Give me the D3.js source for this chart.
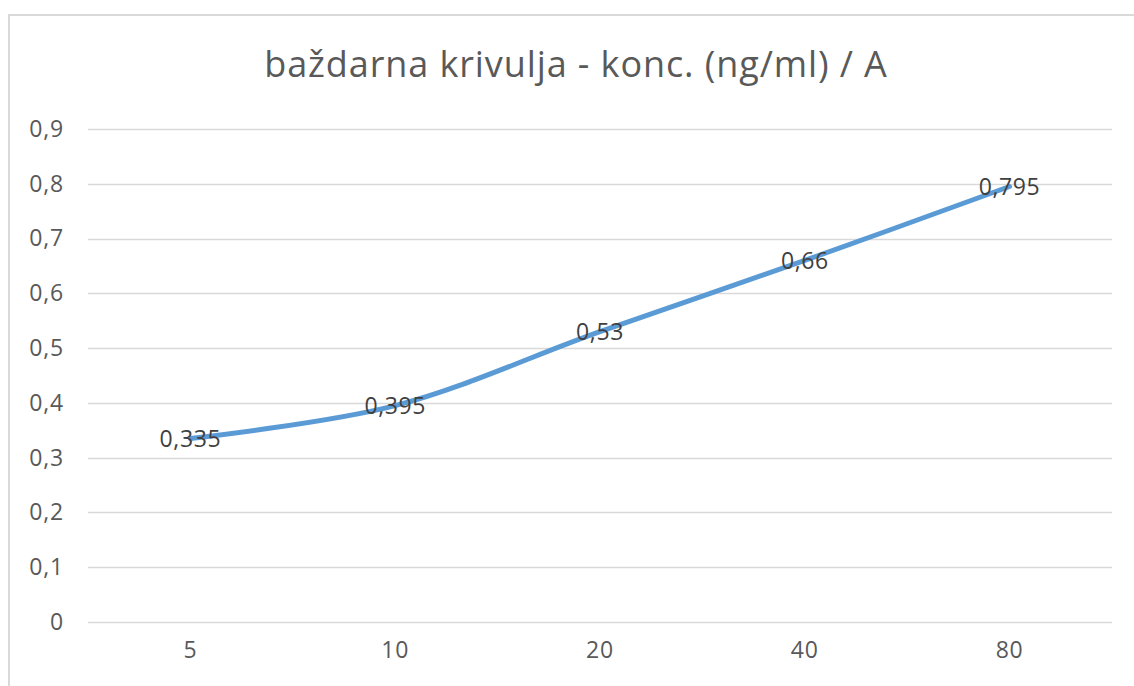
<!DOCTYPE html>
<html>
<head>
<meta charset="utf-8">
<script src="https://cdn.jsdelivr.net/npm/d3@7"></script>
<style>
  body { margin: 0; background: #fff; }
  svg { display: block; font-family: "Open Sans", "Noto Sans", sans-serif; }
</style>
</head>
<body>
<div id="chart"></div>
<script>
// chart data
const categories = ["5", "10", "20", "40", "80"];
const absorbance = [0.335, 0.395, 0.53, 0.66, 0.795];
const yTicks = [0, 0.1, 0.2, 0.3, 0.4, 0.5, 0.6, 0.7, 0.8, 0.9];
const title = "baždarna krivulja - konc. (ng/ml) / A";

const W = 1134, H = 686;
const plot = { left: 88, right: 1112, top: 129, bottom: 622 };
const fmt = v => String(+v.toFixed(3)).replace(".", ",");

const svg = d3.select("#chart").append("svg")
    .attr("width", W)
    .attr("height", H);

// outer chart frame (cropped on right / bottom)
svg.append("path")
    .attr("d", `M9,${H + 5}V15H${W + 5}`)
    .attr("fill", "none")
    .attr("stroke", "#d9d9d9")
    .attr("stroke-width", 2);

const x = d3.scaleBand().domain(categories).range([plot.left, plot.right]);
const y = d3.scaleLinear().domain([0, 0.9]).range([plot.bottom, plot.top]);

// gridlines
svg.append("g")
    .selectAll("line")
    .data(yTicks)
    .join("line")
    .attr("x1", plot.left)
    .attr("x2", plot.right)
    .attr("y1", d => Math.round(y(d)) + 0.5)
    .attr("y2", d => Math.round(y(d)) + 0.5)
    .attr("stroke", "#d9d9d9")
    .attr("stroke-width", 1.5);

// y axis labels
const yAxis = svg.append("g")
    .attr("transform", `translate(${plot.left - 24},0)`)
    .call(d3.axisLeft(y).tickValues(yTicks).tickFormat(fmt).tickSize(0).tickPadding(0));
yAxis.select(".domain").remove();
yAxis.selectAll("text")
    .attr("fill", "#595959")
    .attr("font-size", "23px")
    .attr("letter-spacing", "0.8px")
    .attr("font-family", "Open Sans, sans-serif");

// x axis labels
const xAxis = svg.append("g")
    .attr("transform", `translate(0,${plot.bottom + 20})`)
    .call(d3.axisBottom(x).tickSize(0).tickPadding(0));
xAxis.select(".domain").remove();
xAxis.selectAll("text")
    .attr("fill", "#595959")
    .attr("font-size", "23px")
    .attr("letter-spacing", "0.8px")
    .attr("font-family", "Open Sans, sans-serif");

// title
svg.append("text")
    .attr("x", (plot.left + plot.right) / 2 - 24)
    .attr("y", 77)
    .attr("text-anchor", "middle")
    .attr("fill", "#595959")
    .attr("font-size", "36px")
    .attr("letter-spacing", "0.9px")
    .text(title);

// line (Excel-style smoothing)
const pts = categories.map((c, i) => ({ c, v: absorbance[i] }));
const line = d3.line()
    .x(d => x(d.c) + x.bandwidth() / 2)
    .y(d => y(d.v))
    .curve(d3.curveCatmullRom.alpha(0.5));

svg.append("path")
    .datum(pts)
    .attr("d", line)
    .attr("fill", "none")
    .attr("stroke", "#5b9bd5")
    .attr("stroke-width", 5)
    .attr("stroke-linecap", "round")
    .attr("stroke-linejoin", "round");

// data labels, centered on the points
svg.append("g")
    .selectAll("text")
    .data(pts)
    .join("text")
    .attr("x", d => x(d.c) + x.bandwidth() / 2)
    .attr("y", d => y(d.v))
    .attr("dy", "0.36em")
    .attr("text-anchor", "middle")
    .attr("fill", "#404040")
    .attr("font-size", "23px")
    .attr("letter-spacing", "0.6px")
    .text(d => fmt(d.v));
</script>
</body>
</html>
